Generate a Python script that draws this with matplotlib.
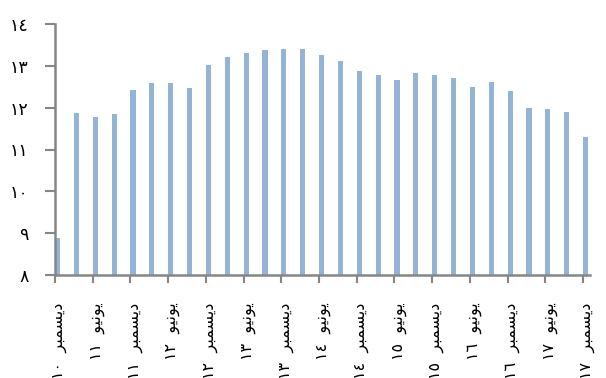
import matplotlib
matplotlib.use("Agg")
import matplotlib.pyplot as plt
from matplotlib.ticker import FixedLocator

plt.rcParams["font.family"] = ["DejaVu Sans"]

# quarterly values, Dec 2010 .. Dec 2017
values = [8.88, 11.87, 11.77, 11.86, 12.42, 12.60, 12.60, 12.46,
          13.02, 13.20, 13.30, 13.39, 13.40, 13.40, 13.27, 13.12,
          12.87, 12.78, 12.66, 12.84, 12.77, 12.70, 12.50, 12.61,
          12.40, 11.99, 11.97, 11.90, 11.30]

# every second quarter gets a label (logical Arabic text)
x_labels = ["ديسمبر ١٠", "يونيو ١١", "ديسمبر ١١", "يونيو ١٢", "ديسمبر ١٢",
            "يونيو ١٣", "ديسمبر ١٣", "يونيو ١٤", "ديسمبر ١٤", "يونيو ١٥",
            "ديسمبر ١٥", "يونيو ١٦", "ديسمبر ١٦", "يونيو ١٧", "ديسمبر ١٧"]
y_ticks = [8, 9, 10, 11, 12, 13, 14]
y_labels = ["٨", "٩", "١٠", "١١", "١٢", "١٣", "١٤"]

BAR = "#95b3d7"
AXIS = "#868686"

# matplotlib has no Arabic shaping: pick presentation forms by hand
# (isolated, final, initial, medial); None = letter does not join forward
FORMS = {
    "د": ("\uFEA9", "\uFEAA", None, None),
    "ر": ("\uFEAD", "\uFEAE", None, None),
    "و": ("\uFEED", "\uFEEE", None, None),
    "ي": ("\uFEF1", "\uFEF2", "\uFEF3", "\uFEF4"),
    "س": ("\uFEB1", "\uFEB2", "\uFEB3", "\uFEB4"),
    "م": ("\uFEE1", "\uFEE2", "\uFEE3", "\uFEE4"),
    "ب": ("\uFE8F", "\uFE90", "\uFE91", "\uFE92"),
    "ن": ("\uFEE5", "\uFEE6", "\uFEE7", "\uFEE8"),
}


def shape_word(word):
    out = []
    for i, ch in enumerate(word):
        iso, fin, ini, med = FORMS[ch]
        prev_joins = i > 0 and FORMS[word[i - 1]][2] is not None
        next_joins = i < len(word) - 1 and ini is not None
        if prev_joins and next_joins:
            out.append(med)
        elif prev_joins:
            out.append(fin)
        elif next_joins:
            out.append(ini)
        else:
            out.append(iso)
    return "".join(reversed(out))


def visual(label):
    # visual (left-to-right) order: number, then the reversed word
    word, num = label.split(" ")
    return num + "  " + shape_word(word)


fig = plt.figure(figsize=(6.06, 3.78), dpi=100)
ax = fig.add_axes([55 / 606, 1 - 275 / 378, 535 / 606, 251 / 378])

x = list(range(len(values)))
ax.bar(x, values, width=0.27, align="edge", color=BAR)

ax.set_ylim(8, 14)
ax.set_xlim(0, len(values) - 1 + 0.37)
ax.set_yticks(y_ticks)
ax.set_yticklabels(y_labels, fontsize=12.5)

major = x[::2]
ax.xaxis.set_major_locator(FixedLocator(major))
ax.xaxis.set_minor_locator(FixedLocator([m + 0.25 for m in major]))
ax.set_xticklabels([], minor=False)
ax.set_xticklabels([visual(l) for l in x_labels], minor=True,
                   rotation=90, fontsize=11.5, va="top", ha="center")

ax.tick_params(axis="x", which="major", direction="out", length=6,
               width=1.5, color=AXIS)
ax.tick_params(axis="x", which="minor", length=0, pad=20)
ax.tick_params(axis="y", direction="out", length=7, width=1.5, color=AXIS,
               pad=12)

for side in ("top", "right"):
    ax.spines[side].set_visible(False)
for side in ("left", "bottom"):
    ax.spines[side].set_color(AXIS)
    ax.spines[side].set_linewidth(1.8)

fig.savefig("out.png", dpi=100)
